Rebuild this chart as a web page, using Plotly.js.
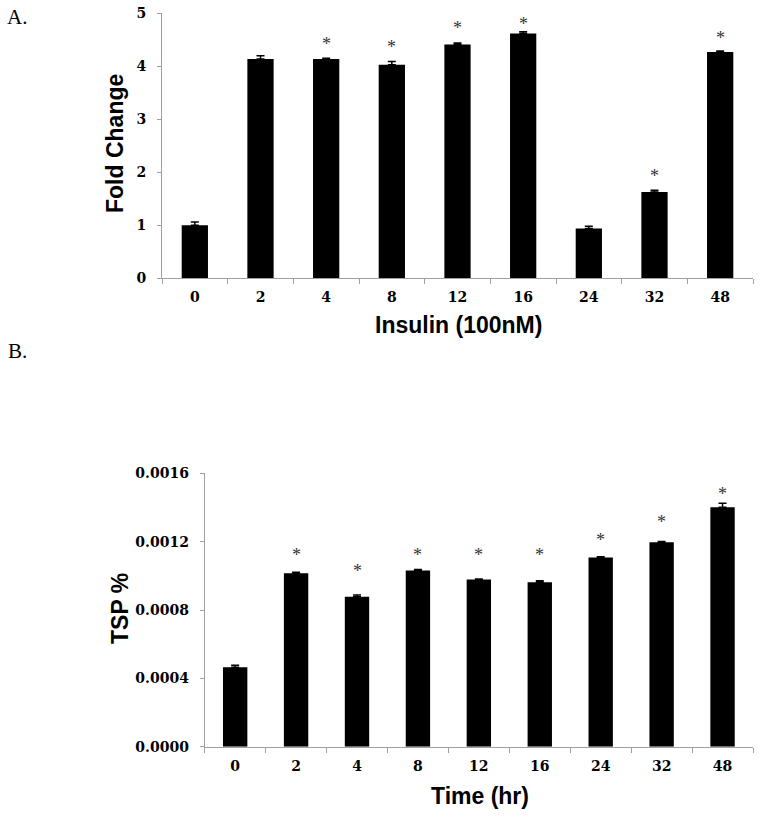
<!DOCTYPE html>
<html>
<head>
<meta charset="utf-8">
<script src="https://cdn.plot.ly/plotly-3.0.1.min.js"></script>
<style>
  html, body { margin: 0; padding: 0; background: #fff; }
  #chart { width: 762px; height: 816px; }
</style>
</head>
<body>
<div id="chart"></div>
<script>
// ---- Data ----
const hours = ['0', '2', '4', '8', '12', '16', '24', '32', '48'];

// Panel A: fold change after insulin (100nM)
const foldChange    = [1.00, 4.14, 4.14, 4.03, 4.41, 4.62, 0.94, 1.63, 4.27];
const foldChangeErr = [0.06, 0.06, 0.01, 0.06, 0.03, 0.03, 0.04, 0.03, 0.02];
const foldChangeSig = [null, null, 4.52, 4.45, 4.82, 4.89, null, 2.03, 4.62];

// Panel B: TSP % over time
const tsp    = [0.000465, 0.001015, 0.000878, 0.001031, 0.000978, 0.000963, 0.001107, 0.001197, 0.001402];
const tspErr = [0.000012, 0.000006, 0.000010, 0.000006, 0.000003, 0.000008, 0.000004, 0.000004, 0.000022];
const tspSig = [null, 0.001152, 0.001058, 0.001152, 0.001152, 0.001152, 0.00124, 0.001347, 0.001509];

const zeros = hours.map(() => 0);

// ---- Styles ----
const W = 762, H = 816;
const axisGray = '#a0a0a0';
const tickFont = { family: '"DejaVu Serif", serif', size: 14, color: '#000', weight: 'bold' };
const titleFont = { family: '"Liberation Sans", Arial, sans-serif', size: 23, color: '#000', weight: 'bold' };
const panelFont = { family: '"Liberation Serif", "Times New Roman", serif', size: 21, color: '#000' };
const starFont = { family: '"Liberation Serif", "Times New Roman", serif', size: 18, color: '#333' };

function px(x) { return x / W; }
function py(y) { return 1 - y / H; }

const traces = [
  {
    type: 'bar', x: hours, y: foldChange, xaxis: 'x', yaxis: 'y',
    marker: { color: '#000' },
    error_y: { type: 'data', symmetric: false, array: foldChangeErr, arrayminus: zeros,
               color: '#000', thickness: 1.5, width: 4 },
    hoverinfo: 'x+y', showlegend: false
  },
  {
    type: 'bar', x: hours, y: tsp, xaxis: 'x2', yaxis: 'y2',
    marker: { color: '#000' },
    error_y: { type: 'data', symmetric: false, array: tspErr, arrayminus: zeros,
               color: '#000', thickness: 1.5, width: 4 },
    hoverinfo: 'x+y', showlegend: false
  }
];

const annotations = [];
hours.forEach((h, i) => {
  // category axes: annotation x given as the category index
  if (foldChangeSig[i] !== null) {
    annotations.push({ x: i, y: foldChangeSig[i], xref: 'x', yref: 'y', text: '*',
      showarrow: false, font: starFont, xanchor: 'center', yanchor: 'middle', yshift: -5 });
  }
  if (tspSig[i] !== null) {
    annotations.push({ x: i, y: tspSig[i], xref: 'x2', yref: 'y2', text: '*',
      showarrow: false, font: starFont, xanchor: 'center', yanchor: 'middle', yshift: -5 });
  }
});

// Titles and panel labels
const paperText = (text, x, y, font, angle) => ({
  text: text, x: px(x), y: py(y), xref: 'paper', yref: 'paper', showarrow: false,
  xanchor: 'center', yanchor: 'middle', textangle: angle || 0, font: font
});
annotations.push(
  paperText('A.', 17, 17, panelFont),
  paperText('B.', 17, 351, panelFont),
  paperText('Fold Change', 115, 144, titleFont, -90),
  paperText('Insulin (100nM)', 458, 325, titleFont),
  paperText('TSP %', 120, 609, titleFont, -90),
  paperText('Time (hr)', 480, 796, titleFont)
);

const xCommon = {
  type: 'category', tickson: 'boundaries', ticks: 'outside', ticklen: 5, tickwidth: 1,
  tickcolor: axisGray, showline: true, linecolor: axisGray, linewidth: 1,
  showgrid: false, zeroline: false, tickfont: tickFont, range: [-0.5, 8.5],
  ticklabelstandoff: 6, fixedrange: true
};
const yCommon = {
  ticks: 'outside', ticklen: 4, tickwidth: 1, tickcolor: axisGray,
  showline: true, linecolor: axisGray, linewidth: 1,
  showgrid: false, zeroline: false, tickfont: tickFont, ticklabelstandoff: 8, fixedrange: true
};

const layout = {
  width: W, height: H,
  margin: { l: 0, r: 0, t: 0, b: 0 },
  paper_bgcolor: '#fff', plot_bgcolor: '#fff',
  bargap: 0.6,
  showlegend: false,
  xaxis: Object.assign({}, xCommon, { domain: [px(162), px(753)], anchor: 'y' }),
  yaxis: Object.assign({}, yCommon, { domain: [py(278.3), py(13.3)], anchor: 'x',
                                      range: [0, 5], dtick: 1, tick0: 0 }),
  xaxis2: Object.assign({}, xCommon, { domain: [px(204.7), px(753)], anchor: 'y2' }),
  yaxis2: Object.assign({}, yCommon, { domain: [py(746.7), py(473.3)], anchor: 'x2',
                                       range: [0, 0.0016], dtick: 0.0004, tick0: 0,
                                       tickformat: '.4f' }),
  annotations: annotations
};

Plotly.newPlot('chart', traces, layout, { displayModeBar: false, staticPlot: true });
</script>
</body>
</html>
